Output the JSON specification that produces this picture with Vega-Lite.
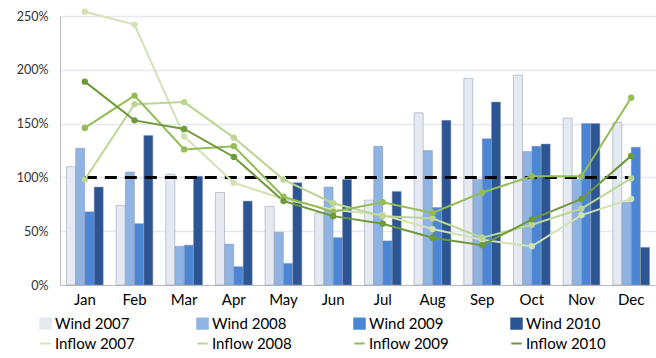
{
  "$schema": "https://vega.github.io/schema/vega-lite/v6.json",
  "width": 596,
  "height": 269,
  "autosize": {"type": "none"},
  "padding": {"left": 60, "top": 16, "right": 0, "bottom": 73},
  "config": {
    "font": "Lato",
    "view": {"stroke": null},
    "axis": {"labelFont": "Lato", "titleFont": "Lato"},
    "legend": {"labelFont": "Lato"}
  },
  "datasets": {
    "wind": [
      {"month": "Jan", "series": "Wind 2007", "value": 1.10}, {"month": "Feb", "series": "Wind 2007", "value": 0.74}, {"month": "Mar", "series": "Wind 2007", "value": 1.03}, {"month": "Apr", "series": "Wind 2007", "value": 0.86}, {"month": "May", "series": "Wind 2007", "value": 0.73}, {"month": "Jun", "series": "Wind 2007", "value": 0.67}, {"month": "Jul", "series": "Wind 2007", "value": 0.79}, {"month": "Aug", "series": "Wind 2007", "value": 1.60}, {"month": "Sep", "series": "Wind 2007", "value": 1.92}, {"month": "Oct", "series": "Wind 2007", "value": 1.95}, {"month": "Nov", "series": "Wind 2007", "value": 1.55}, {"month": "Dec", "series": "Wind 2007", "value": 1.51},
      {"month": "Jan", "series": "Wind 2008", "value": 1.27}, {"month": "Feb", "series": "Wind 2008", "value": 1.05}, {"month": "Mar", "series": "Wind 2008", "value": 0.36}, {"month": "Apr", "series": "Wind 2008", "value": 0.38}, {"month": "May", "series": "Wind 2008", "value": 0.49}, {"month": "Jun", "series": "Wind 2008", "value": 0.91}, {"month": "Jul", "series": "Wind 2008", "value": 1.29}, {"month": "Aug", "series": "Wind 2008", "value": 1.25}, {"month": "Sep", "series": "Wind 2008", "value": 0.98}, {"month": "Oct", "series": "Wind 2008", "value": 1.24}, {"month": "Nov", "series": "Wind 2008", "value": 0.98}, {"month": "Dec", "series": "Wind 2008", "value": 0.77},
      {"month": "Jan", "series": "Wind 2009", "value": 0.68}, {"month": "Feb", "series": "Wind 2009", "value": 0.57}, {"month": "Mar", "series": "Wind 2009", "value": 0.37}, {"month": "Apr", "series": "Wind 2009", "value": 0.17}, {"month": "May", "series": "Wind 2009", "value": 0.20}, {"month": "Jun", "series": "Wind 2009", "value": 0.44}, {"month": "Jul", "series": "Wind 2009", "value": 0.41}, {"month": "Aug", "series": "Wind 2009", "value": 0.72}, {"month": "Sep", "series": "Wind 2009", "value": 1.36}, {"month": "Oct", "series": "Wind 2009", "value": 1.29}, {"month": "Nov", "series": "Wind 2009", "value": 1.50}, {"month": "Dec", "series": "Wind 2009", "value": 1.28},
      {"month": "Jan", "series": "Wind 2010", "value": 0.91}, {"month": "Feb", "series": "Wind 2010", "value": 1.39}, {"month": "Mar", "series": "Wind 2010", "value": 1.01}, {"month": "Apr", "series": "Wind 2010", "value": 0.78}, {"month": "May", "series": "Wind 2010", "value": 0.95}, {"month": "Jun", "series": "Wind 2010", "value": 0.98}, {"month": "Jul", "series": "Wind 2010", "value": 0.87}, {"month": "Aug", "series": "Wind 2010", "value": 1.53}, {"month": "Sep", "series": "Wind 2010", "value": 1.70}, {"month": "Oct", "series": "Wind 2010", "value": 1.31}, {"month": "Nov", "series": "Wind 2010", "value": 1.50}, {"month": "Dec", "series": "Wind 2010", "value": 0.35}
    ],
    "inflow": [
      {"month": "Jan", "series": "Inflow 2007", "value": 2.54}, {"month": "Feb", "series": "Inflow 2007", "value": 2.42}, {"month": "Mar", "series": "Inflow 2007", "value": 1.38}, {"month": "Apr", "series": "Inflow 2007", "value": 0.95}, {"month": "May", "series": "Inflow 2007", "value": 0.80}, {"month": "Jun", "series": "Inflow 2007", "value": 0.70}, {"month": "Jul", "series": "Inflow 2007", "value": 0.65}, {"month": "Aug", "series": "Inflow 2007", "value": 0.52}, {"month": "Sep", "series": "Inflow 2007", "value": 0.42}, {"month": "Oct", "series": "Inflow 2007", "value": 0.36}, {"month": "Nov", "series": "Inflow 2007", "value": 0.65}, {"month": "Dec", "series": "Inflow 2007", "value": 0.80},
      {"month": "Jan", "series": "Inflow 2008", "value": 0.98}, {"month": "Feb", "series": "Inflow 2008", "value": 1.68}, {"month": "Mar", "series": "Inflow 2008", "value": 1.70}, {"month": "Apr", "series": "Inflow 2008", "value": 1.37}, {"month": "May", "series": "Inflow 2008", "value": 0.98}, {"month": "Jun", "series": "Inflow 2008", "value": 0.76}, {"month": "Jul", "series": "Inflow 2008", "value": 0.64}, {"month": "Aug", "series": "Inflow 2008", "value": 0.62}, {"month": "Sep", "series": "Inflow 2008", "value": 0.44}, {"month": "Oct", "series": "Inflow 2008", "value": 0.56}, {"month": "Nov", "series": "Inflow 2008", "value": 0.71}, {"month": "Dec", "series": "Inflow 2008", "value": 0.99},
      {"month": "Jan", "series": "Inflow 2009", "value": 1.46}, {"month": "Feb", "series": "Inflow 2009", "value": 1.76}, {"month": "Mar", "series": "Inflow 2009", "value": 1.26}, {"month": "Apr", "series": "Inflow 2009", "value": 1.29}, {"month": "May", "series": "Inflow 2009", "value": 0.82}, {"month": "Jun", "series": "Inflow 2009", "value": 0.68}, {"month": "Jul", "series": "Inflow 2009", "value": 0.77}, {"month": "Aug", "series": "Inflow 2009", "value": 0.67}, {"month": "Sep", "series": "Inflow 2009", "value": 0.86}, {"month": "Oct", "series": "Inflow 2009", "value": 1.01}, {"month": "Nov", "series": "Inflow 2009", "value": 1.01}, {"month": "Dec", "series": "Inflow 2009", "value": 1.74},
      {"month": "Jan", "series": "Inflow 2010", "value": 1.89}, {"month": "Feb", "series": "Inflow 2010", "value": 1.53}, {"month": "Mar", "series": "Inflow 2010", "value": 1.45}, {"month": "Apr", "series": "Inflow 2010", "value": 1.19}, {"month": "May", "series": "Inflow 2010", "value": 0.78}, {"month": "Jun", "series": "Inflow 2010", "value": 0.64}, {"month": "Jul", "series": "Inflow 2010", "value": 0.57}, {"month": "Aug", "series": "Inflow 2010", "value": 0.44}, {"month": "Sep", "series": "Inflow 2010", "value": 0.37}, {"month": "Oct", "series": "Inflow 2010", "value": 0.61}, {"month": "Nov", "series": "Inflow 2010", "value": 0.80}, {"month": "Dec", "series": "Inflow 2010", "value": 1.20}
    ],
    "ref": [
      {"month": "Jan", "value": 1.0}, {"month": "Dec", "value": 1.0}
    ]
  },
  "encoding": {
    "x": {
      "field": "month", "type": "nominal",
      "sort": ["Jan","Feb","Mar","Apr","May","Jun","Jul","Aug","Sep","Oct","Nov","Dec"],
      "scale": {"domain": ["Jan","Feb","Mar","Apr","May","Jun","Jul","Aug","Sep","Oct","Nov","Dec"], "paddingInner": 0.26, "paddingOuter": 0.13},
      "axis": {"title": null, "labelAngle": 0, "labelFontSize": 15, "labelColor": "#000000", "labelPadding": 7, "ticks": false, "domainColor": "#bfbfbf", "domainWidth": 1}
    },
    "y": {
      "field": "value", "type": "quantitative",
      "scale": {"domain": [0, 2.5], "nice": false},
      "axis": {"title": null, "format": ".0%", "values": [0, 0.5, 1, 1.5, 2, 2.5], "labelFontSize": 12.5, "labelColor": "#333333", "labelPadding": 12, "ticks": false, "grid": true, "gridColor": "#e6e8f0", "gridWidth": 1.5, "domain": true, "domainColor": "#bfbfbf"}
    }
  },
  "layer": [
    {
      "data": {"name": "wind"},
      "mark": {"type": "bar", "stroke": "#8a95a8", "strokeWidth": 0.5},
      "encoding": {
        "xOffset": {"field": "series", "type": "nominal", "scale": {"domain": ["Wind 2007","Wind 2008","Wind 2009","Wind 2010"], "paddingInner": 0.02}},
        "color": {
          "field": "series", "type": "nominal",
          "scale": {
            "domain": ["Wind 2007","Wind 2008","Wind 2009","Wind 2010","Inflow 2007","Inflow 2008","Inflow 2009","Inflow 2010"],
            "range": ["#e4e9f2","#8fb4e3","#4a86d5","#2c5594","#d3e2b5","#bcd692","#94bd55","#6e9a3b"]
          },
          "legend": {
            "title": null, "orient": "none", "legendX": -22, "legendY": 300, "direction": "horizontal", "columns": 4,
            "columnPadding": 58, "rowPadding": 3, "labelFontSize": 15, "labelColor": "#000000", "symbolSize": 110, "labelOffset": 2,
            "symbolType": "square",
            "encode": {
              "symbols": {
                "update": {
                  "shape": {"signal": "indexof(datum.value, 'Wind') >= 0 ? 'square' : 'stroke'"},
                  "fill": {"signal": "indexof(datum.value, 'Wind') >= 0 ? scale('color', datum.value) : 'transparent'"},
                  "stroke": {"signal": "scale('color', datum.value)"},
                  "strokeWidth": {"value": 2},
                  "fillOpacity": {"value": 1},
                  "opacity": {"value": 1}
                }
              }
            }
          }
        }
      }
    },
    {
      "data": {"name": "ref"},
      "mark": {"type": "line", "color": "#000000", "strokeWidth": 3, "strokeDash": [12, 8]},
      "encoding": {}
    },
    {
      "data": {"name": "inflow"},
      "mark": {"type": "line", "strokeWidth": 2, "point": {"size": 40, "filled": true}},
      "encoding": {
        "color": {
          "field": "series", "type": "nominal",
          "legend": {
            "title": null, "orient": "none", "legendX": -22, "legendY": 300, "direction": "horizontal", "columns": 4,
            "columnPadding": 58, "rowPadding": 3, "labelFontSize": 15, "labelColor": "#000000", "symbolSize": 110, "labelOffset": 2,
            "symbolType": "square",
            "encode": {
              "symbols": {
                "update": {
                  "shape": {"signal": "indexof(datum.value, 'Wind') >= 0 ? 'square' : 'stroke'"},
                  "fill": {"signal": "indexof(datum.value, 'Wind') >= 0 ? scale('color', datum.value) : 'transparent'"},
                  "stroke": {"signal": "scale('color', datum.value)"},
                  "strokeWidth": {"value": 2},
                  "fillOpacity": {"value": 1},
                  "opacity": {"value": 1}
                }
              }
            }
          }
        }
      }
    }
  ]
}
